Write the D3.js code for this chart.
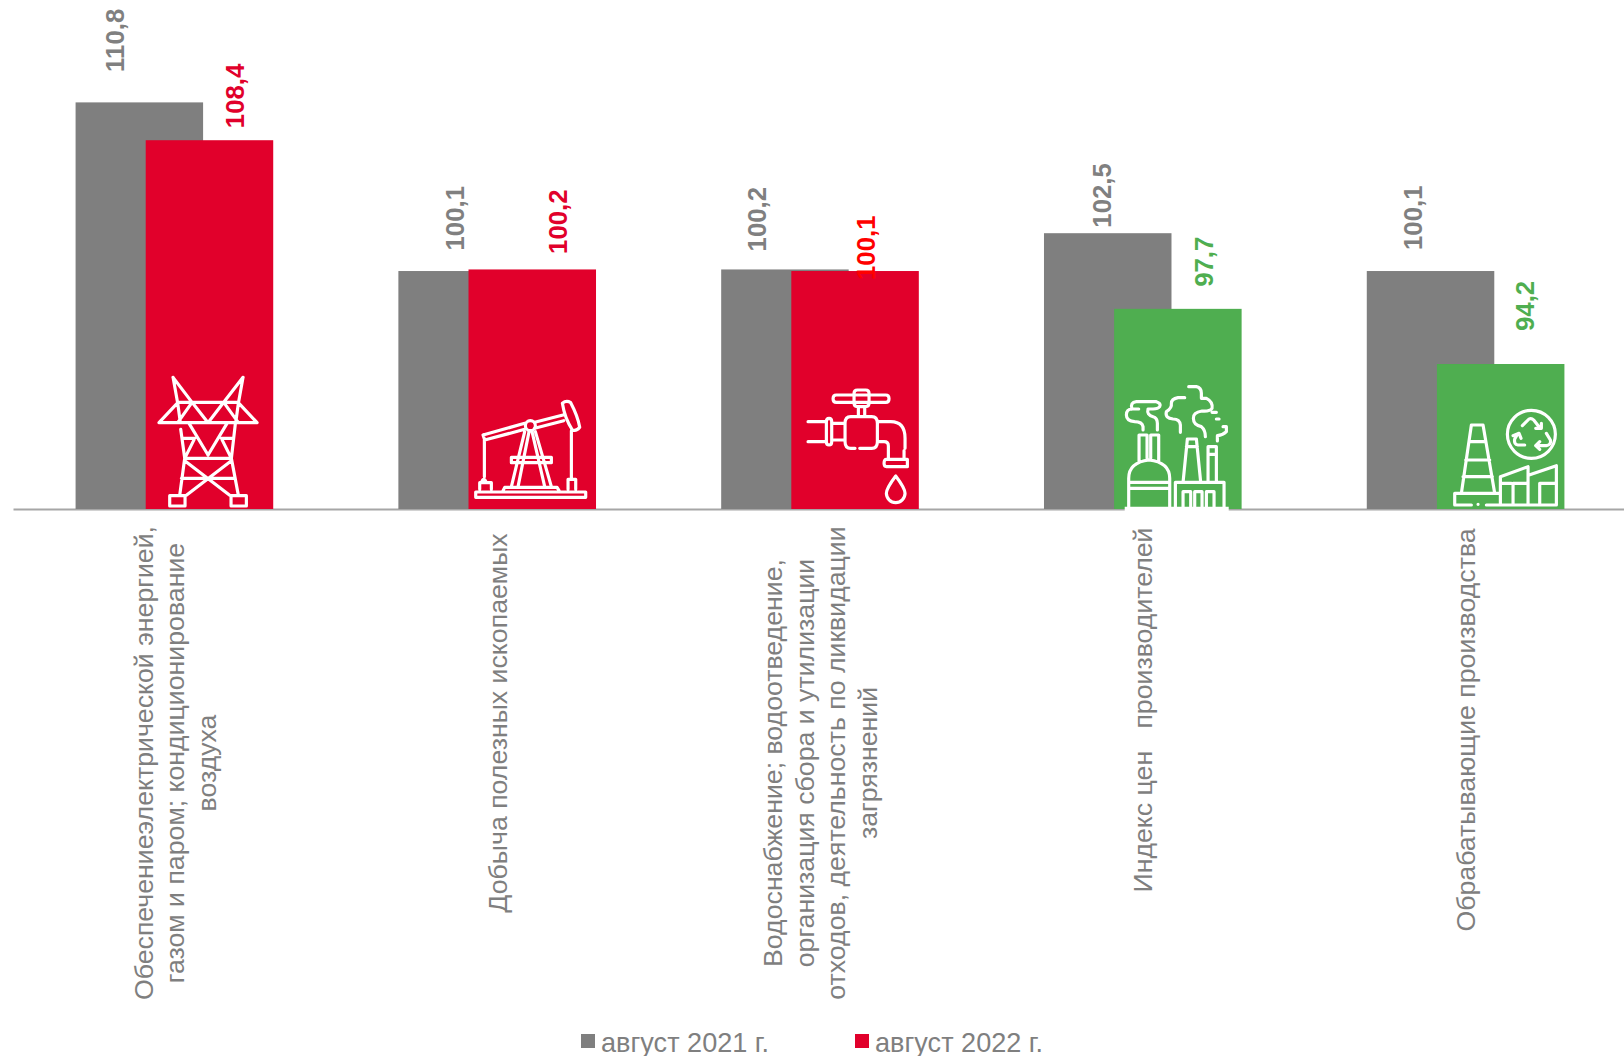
<!DOCTYPE html>
<html><head><meta charset="utf-8">
<script src="https://cdn.jsdelivr.net/npm/d3@7"></script>
<style>html,body{margin:0;padding:0;background:#fff}svg{display:block}text{font-family:"Liberation Sans",Arial,sans-serif}</style>
</head><body><div id="chart"></div>
<script>
const categories = [
  ["Обеспечениеэлектрической энергией,","газом и паром; кондиционирование","воздуха"],
  ["Добыча полезных ископаемых"],
  ["Водоснабжение; водоотведение,","организация сбора и утилизации","отходов, деятельность по ликвидации","загрязнений"],
  ["Индекс цен   производителей"],
  ["Обрабатывающие производства"]
];
const seriesNames = ["август 2021 г.","август 2022 г."];
const values2021 = [110.8,100.1,100.2,102.5,100.1];
const values2022 = [108.4,100.2,100.1,97.7,94.2];
const yDomain = [85,115];

// placement of manually moved data labels (px relative to bar centre / top)
const labelDx2021 = [-24.5,-7,-28,-6,-18];
const labelDx2022 = [25,25,11,25.5,24.5];
const labelGap2021 = [30.5,20.5,18,5.5,21];
const labelGap2022 = [12,15.5,-9,22,33];
const axisLabelCentre = [763,723,763,710,730];

const W=1624,H=1056, GRAY="#7f7f7f", RED="#e1002b", GREEN="#4fae50", AXIS="#a6a6a6";
const svg=d3.select("#chart").append("svg").attr("width",W).attr("height",H);
const ids=categories.map((_,i)=>i);
const x=d3.scaleBand().domain(ids).range([13,1627]);
const y=d3.scaleLinear().domain(yDomain).range([509,36.2]);
const barW=x.bandwidth()*0.395, off=barW*0.55;
const pairW=barW+off;
const left2021=i=>x(i)+(x.bandwidth()-pairW)/2;
const left2022=i=>left2021(i)+off;
const colour22=v=>v>=100?RED:GREEN;

// axis
const ax=svg.append("g").attr("transform",`translate(0,${y(yDomain[0])})`)
  .call(d3.axisBottom(x).tickSize(0).tickFormat(""));
ax.select(".domain").attr("stroke",AXIS).attr("stroke-width",2);
const lh=31.5, fs=26.7;
ax.selectAll(".tick").each(function(i){
  const t=d3.select(this).select("text");
  const lines=categories[i];
  const cy=axisLabelCentre[i]-y(yDomain[0]);
  t.attr("y",null).attr("dy",null)
   .attr("transform",`translate(0,${cy}) rotate(-90)`)
   .attr("text-anchor","middle").attr("fill",GRAY).attr("font-size",fs)
   .style("font-family",'"Liberation Sans"').style("white-space","pre");
  t.selectAll("tspan").data(lines).join("tspan")
   .attr("x",0).attr("y",(d,k)=>(k-(lines.length-1)/2)*lh+fs*0.36).text(d=>d);
});

// bars
svg.append("g").selectAll("rect").data(values2021).join("rect")
  .attr("x",(d,i)=>left2021(i)).attr("y",d=>y(d)).attr("width",barW)
  .attr("height",d=>y(yDomain[0])-y(d)).attr("fill",GRAY);
svg.append("g").selectAll("rect").data(values2022).join("rect")
  .attr("x",(d,i)=>left2022(i)).attr("y",d=>y(d)).attr("width",barW)
  .attr("height",d=>y(yDomain[0])-y(d)).attr("fill",colour22);

// value labels
const fmt=v=>v.toFixed(1).replace(".",",");
const vfs=25.8;
svg.append("g").selectAll("text").data(values2021).join("text")
  .attr("transform",(d,i)=>`translate(${left2021(i)+barW/2+labelDx2021[i]+vfs*0.358},${y(d)-labelGap2021[i]}) rotate(-90)`)
  .attr("font-size",vfs).attr("font-weight","bold").attr("fill","#808080").text(fmt);
svg.append("g").selectAll("text").data(values2022).join("text")
  .attr("transform",(d,i)=>`translate(${left2022(i)+barW/2+labelDx2022[i]+vfs*0.358},${y(d)-labelGap2022[i]}) rotate(-90)`)
  .attr("font-size",vfs).attr("font-weight","bold")
  .attr("fill",(d,i)=>i===2?"#ff0000":colour22(d)).text(fmt);

// icons: outline pictograms in their own local coordinates (3 units = 1 px)
const icons=[
 {dx:4,dy:-139,d:"M70 22L84 100M70 22L127 97M280 22L266 100M280 22L222 97M85 97H265M28 158H322M85 97L28 158M265 97L322 158M127 97L84 158M127 97L175 158M222 97L175 158M222 97L266 158M84 100L92 158M266 100L258 158M93 178L105 265L90 376M257 160L245 265L266 376M118 160L175 255M232 160L175 255M105 265L135 205M215 205L245 265M100 205H135M215 205H250M105 265H245M105 272L240 376M245 272L110 376M95 325H255M60 377H106V408H60ZM244 377H290V408H244Z"},
 {dx:324,dy:-119,d:"M40 135L165 100M45 150L165 118M195 97L280 75M195 115L282 92M40 135L45 150M278 40Q290 30 303 38Q325 80 330 112Q320 125 308 120Q285 85 278 40ZM305 122V265M44 150V260M30 298V278H65V298M35 278Q42 258 50 278M295 298V268H318V298M18 306H348V322H18ZM100 302L105 292H262L268 302M165 125L125 290M178 125L145 290M187 125L225 290M197 125L245 290M125 202H245V218H125Z",circle:[182,107,15]},
 {dx:650,dy:-129,d:"M122 45H270Q280 45 280 56Q280 67 270 67H122Q112 67 112 56Q112 45 122 45ZM185 30H210Q220 30 220 40V70Q220 80 210 80H185Q175 80 175 70V40Q175 30 185 30ZM188 80V108M207 80V108M178 205H165Q148 205 148 185V130Q148 110 165 110H228Q245 110 245 130V185Q245 205 228 205H192M100 115Q108 115 108 125V185Q108 195 100 195Q92 195 92 185V125Q92 115 100 115ZM37 125H92M37 185H92M108 130H148M108 180H148M245 125H285Q328 125 328 175V205M245 185H265Q278 185 278 198V238M272 238H335V260H272Q265 260 265 250Q265 238 272 238ZM325 212V238M300 288Q272 325 272 340A28 28 0 0 0 328 340Q328 325 300 288Z"},
 {dx:969,dy:-134,d:"M73 258V180H97V250M108 250V180H132V258M42 395V310Q42 262 103 255Q165 262 165 310V395M42 322H165M42 340H165M182 395V322H328V395M205 395V350H228V395M240 395V350H262V395M275 395V350H298V395M205 322L218 192H245L258 322M215 215H248M280 322V215H305V322M280 238H305M85 165V155Q82 140 60 140Q35 138 35 120Q35 102 52 102H72M52 102Q45 82 65 80H125Q140 85 135 95Q130 102 115 102H100Q95 120 115 125Q128 128 128 145V165M210 68H190Q170 72 170 85Q172 100 155 110Q150 130 175 132Q195 132 197 150V172M222 35H245Q260 38 260 55V70H275Q295 80 292 100Q285 110 262 108Q235 112 236 130Q236 150 260 155Q272 165 272 185M305 112H292M325 155H335V170Q325 180 308 182V198M305 132h8",fill:"M30 395h312v18h-312z"},
 {dx:1294,dy:-114,d:"M95 90H130L165 295M95 90L65 295M88 140H138M78 195H150M70 245H158M95 330H45V295H182M182 330V245L265 215V330M268 240L350 212V330H140M220 330V265H260M300 330V265H345M182 265H215M275 330H345M115 328h.1",circle:[275,118,72],extra:"M248 92L268 72Q275 68 282 75L300 98M288 100H305V85M320 115L332 135Q335 150 320 152H290M300 140L288 152L300 163M255 150H235Q222 148 225 132L232 120M220 122L238 115L244 130"}
];
const ig=svg.append("g").attr("class","icons");
icons.forEach((c,i)=>{
  const ox=left2022(0)+c.dx, oy=y(yDomain[0])+c.dy;
  const g=ig.append("g").attr("transform",`translate(${ox},${oy}) scale(${1/3})`)
    .attr("fill","none").attr("stroke","#fff").attr("stroke-width",9.5)
    .attr("stroke-linecap","round").attr("stroke-linejoin","round");
  g.append("path").attr("d",c.d);
  if(c.extra) g.append("path").attr("d",c.extra);
  if(c.circle) g.append("circle").attr("cx",c.circle[0]).attr("cy",c.circle[1]).attr("r",c.circle[2]);
  if(c.fill) g.append("path").attr("d",c.fill).attr("fill","#fff").attr("stroke","none");
});

// legend
const legendX=[581,855];
const lg=svg.append("g").selectAll("g").data(seriesNames).join("g")
  .attr("transform",(d,i)=>`translate(${legendX[i]},1034)`);
lg.append("rect").attr("width",14).attr("height",14).attr("fill",(d,i)=>i?RED:GRAY);
lg.append("text").attr("x",20).attr("y",17.5).attr("font-size",27.1).attr("fill",GRAY).text(d=>d);
</script></body></html>
